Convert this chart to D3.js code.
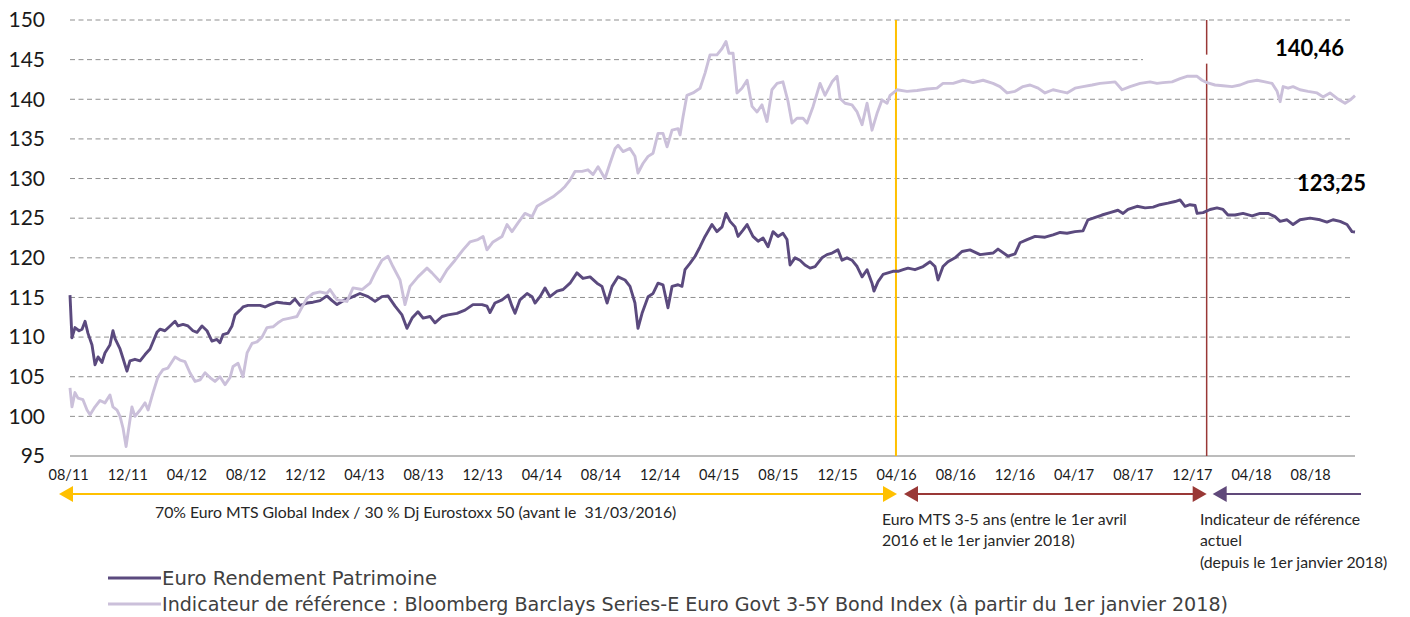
<!DOCTYPE html>
<html><head><meta charset="utf-8">
<script src="https://cdn.jsdelivr.net/npm/d3@7"></script>
<style>body{margin:0;background:#fff;} svg{display:block;} text{white-space:pre;}</style>
</head><body><svg id="c" width="1410" height="617"></svg>
<script>
// ---------------- DATA ----------------
const yTicks = [95,100,105,110,115,120,125,130,135,140,145,150];
const xTickLabels = ["08/11","12/11","04/12","08/12","12/12","04/13","08/13","12/13","04/14","08/14","12/14","04/15","08/15","12/15","04/16","08/16","12/16","04/17","08/17","12/17","04/18","08/18"];
const seriesNames = ["Euro Rendement Patrimoine","Indicateur de référence : Bloomberg Barclays Series-E Euro Govt 3-5Y Bond Index (à partir du 1er janvier 2018)"];
const lastLabels = ["123,25","140,46"];
// time in decimal years
const fundT = [2011.594,2011.605,2011.622,2011.645,2011.662,2011.679,2011.695,2011.718,2011.735,2011.752,2011.774,2011.791,2011.819,2011.836,2011.848,2011.876,2011.893,2011.915,2011.932,2011.960,2011.989,2012.017,2012.045,2012.084,2012.101,2012.129,2012.158,2012.186,2012.203,2012.231,2012.259,2012.287,2012.310,2012.338,2012.366,2012.394,2012.422,2012.439,2012.456,2012.484,2012.507,2012.524,2012.552,2012.569,2012.597,2012.625,2012.665,2012.693,2012.721,2012.761,2012.794,2012.834,2012.862,2012.890,2012.930,2012.964,2013.003,2013.042,2013.071,2013.099,2013.144,2013.189,2013.228,2013.274,2013.313,2013.352,2013.386,2013.426,2013.465,2013.493,2013.522,2013.555,2013.584,2013.623,2013.651,2013.691,2013.724,2013.775,2013.820,2013.865,2013.916,2013.944,2013.961,2013.989,2014.029,2014.063,2014.085,2014.102,2014.130,2014.170,2014.198,2014.215,2014.243,2014.271,2014.299,2014.339,2014.373,2014.412,2014.451,2014.485,2014.525,2014.564,2014.592,2014.621,2014.649,2014.683,2014.722,2014.750,2014.778,2014.795,2014.818,2014.852,2014.880,2014.908,2014.936,2014.964,2014.987,2015.021,2015.043,2015.060,2015.088,2015.117,2015.145,2015.173,2015.212,2015.240,2015.269,2015.291,2015.314,2015.342,2015.359,2015.387,2015.410,2015.443,2015.472,2015.500,2015.528,2015.556,2015.584,2015.612,2015.635,2015.652,2015.680,2015.708,2015.736,2015.765,2015.793,2015.832,2015.860,2015.889,2015.922,2015.945,2015.973,2016.001,2016.030,2016.058,2016.086,2016.114,2016.125,2016.148,2016.176,2016.204,2016.232,2016.261,2016.289,2016.317,2016.356,2016.402,2016.441,2016.469,2016.486,2016.514,2016.542,2016.582,2016.621,2016.666,2016.723,2016.796,2016.824,2016.881,2016.920,2016.948,2016.988,2017.033,2017.089,2017.134,2017.174,2017.213,2017.258,2017.303,2017.331,2017.360,2017.410,2017.455,2017.500,2017.529,2017.557,2017.608,2017.653,2017.698,2017.737,2017.782,2017.822,2017.850,2017.878,2017.906,2017.935,2017.946,2017.980,2018.019,2018.058,2018.092,2018.120,2018.160,2018.205,2018.256,2018.301,2018.346,2018.385,2018.414,2018.453,2018.487,2018.526,2018.583,2018.639,2018.678,2018.712,2018.752,2018.791,2018.819,2018.836];
const fundV = [115.3,109.9,111.2,110.8,111.0,112.0,110.5,109.0,106.5,107.5,106.8,108.0,109.0,110.8,109.8,108.5,107.3,105.7,107.0,107.2,107.0,107.8,108.5,110.6,111.0,110.8,111.4,112.0,111.4,111.6,111.4,110.8,110.6,111.4,110.8,109.5,109.7,109.3,110.3,110.5,111.4,112.8,113.4,113.8,114.0,114.0,114.0,113.8,114.1,114.4,114.3,114.2,114.8,114.0,114.3,114.4,114.6,115.2,114.6,114.1,114.7,115.1,115.5,115.1,114.5,115.1,115.2,113.9,112.8,111.1,112.4,113.2,112.4,112.6,111.8,112.6,112.8,113.0,113.4,114.1,114.1,113.9,113.1,114.3,114.7,115.3,113.9,113.0,114.7,115.5,115.1,114.3,115.1,116.2,115.1,115.8,116.0,116.8,118.1,117.4,117.6,116.8,116.4,114.3,116.4,117.6,117.2,116.4,114.3,111.1,113.0,115.1,115.5,116.8,116.6,113.7,116.4,116.6,116.4,118.5,119.3,120.2,121.4,122.7,124.2,123.3,123.9,125.6,124.6,123.9,122.7,123.5,124.2,122.7,122.1,122.5,121.4,123.3,122.7,123.1,122.3,119.1,120.0,119.7,119.1,118.7,118.9,120.0,120.4,120.6,121.0,119.7,120.0,119.7,118.9,117.6,118.5,116.8,115.8,117.0,117.9,118.1,118.3,118.3,118.5,118.7,118.5,118.9,119.5,118.9,117.2,118.9,119.5,120.0,120.8,121.0,120.4,120.6,121.1,120.2,120.5,121.9,122.3,122.7,122.6,122.9,123.2,123.1,123.3,123.4,124.8,125.0,125.4,125.7,126.0,125.6,126.1,126.5,126.3,126.4,126.7,126.9,127.1,127.3,126.5,126.7,126.6,125.6,125.7,126.1,126.3,126.1,125.4,125.4,125.6,125.3,125.6,125.6,125.2,124.6,124.8,124.2,124.8,125.0,124.8,124.5,124.8,124.6,124.2,123.3,123.25];
const benchT = [2011.594,2011.605,2011.622,2011.639,2011.667,2011.690,2011.707,2011.735,2011.763,2011.791,2011.819,2011.836,2011.859,2011.876,2011.893,2011.910,2011.921,2011.943,2011.960,2011.989,2012.017,2012.034,2012.062,2012.090,2012.118,2012.146,2012.186,2012.214,2012.242,2012.270,2012.299,2012.327,2012.355,2012.383,2012.411,2012.439,2012.468,2012.496,2012.513,2012.541,2012.569,2012.592,2012.620,2012.648,2012.676,2012.704,2012.738,2012.766,2012.794,2012.834,2012.873,2012.902,2012.930,2012.964,2013.003,2013.042,2013.059,2013.099,2013.155,2013.189,2013.240,2013.285,2013.313,2013.352,2013.386,2013.414,2013.454,2013.482,2013.510,2013.555,2013.606,2013.634,2013.679,2013.719,2013.764,2013.809,2013.848,2013.893,2013.922,2013.944,2013.978,2014.029,2014.057,2014.085,2014.119,2014.158,2014.198,2014.226,2014.271,2014.316,2014.356,2014.384,2014.412,2014.440,2014.480,2014.513,2014.542,2014.570,2014.609,2014.637,2014.666,2014.683,2014.711,2014.750,2014.778,2014.795,2014.823,2014.852,2014.880,2014.908,2014.936,2014.959,2014.987,2015.021,2015.032,2015.049,2015.071,2015.105,2015.145,2015.173,2015.201,2015.240,2015.269,2015.291,2015.308,2015.331,2015.353,2015.381,2015.410,2015.438,2015.466,2015.494,2015.522,2015.550,2015.579,2015.612,2015.641,2015.663,2015.691,2015.725,2015.748,2015.782,2015.821,2015.849,2015.889,2015.917,2015.934,2015.962,2016.001,2016.030,2016.058,2016.086,2016.114,2016.142,2016.170,2016.199,2016.216,2016.255,2016.311,2016.368,2016.424,2016.480,2016.514,2016.571,2016.627,2016.683,2016.740,2016.796,2016.835,2016.875,2016.920,2016.965,2017.005,2017.050,2017.089,2017.134,2017.174,2017.213,2017.258,2017.303,2017.354,2017.399,2017.444,2017.484,2017.523,2017.568,2017.625,2017.681,2017.720,2017.754,2017.805,2017.850,2017.889,2017.946,2017.974,2018.002,2018.047,2018.092,2018.143,2018.188,2018.233,2018.284,2018.329,2018.369,2018.397,2018.414,2018.431,2018.459,2018.487,2018.526,2018.571,2018.622,2018.656,2018.695,2018.735,2018.780,2018.808,2018.836];
const benchV = [103.6,101.2,103.0,102.3,102.1,100.8,100.2,101.2,102.0,101.7,102.7,101.2,100.8,100.0,98.5,96.2,97.9,101.2,100.0,100.8,101.7,100.8,103.0,105.0,105.9,106.1,107.5,107.1,106.9,105.5,104.4,104.6,105.5,104.9,104.4,105.0,104.0,104.9,106.3,106.7,105.0,108.0,109.2,109.4,110.0,111.2,111.3,111.8,112.2,112.4,112.6,113.8,114.9,115.5,115.7,115.5,116.0,114.7,114.5,116.2,116.0,116.8,118.1,119.7,120.2,118.9,117.2,114.1,116.4,117.6,118.7,118.1,117.0,118.5,119.7,121.0,122.0,122.3,122.7,121.0,122.0,122.7,124.2,123.3,124.4,125.6,125.2,126.5,127.1,127.7,128.4,129.0,129.8,130.9,130.9,131.1,130.5,131.5,130.0,131.9,133.8,134.2,133.4,133.8,132.8,130.7,131.9,132.8,133.2,135.7,135.7,134.0,136.1,136.3,135.5,137.8,140.5,140.8,141.4,143.3,145.6,145.6,146.4,147.3,145.8,145.8,140.8,141.4,142.4,139.1,138.4,139.3,137.2,141.2,142.0,142.2,139.7,137.0,137.6,137.6,137.0,139.1,142.0,140.5,142.2,142.9,140.1,139.5,139.3,138.4,136.8,139.5,136.1,138.2,139.9,139.5,140.5,141.2,141.0,141.1,141.3,141.4,142.0,142.0,142.4,142.1,142.4,142.0,141.6,140.8,141.0,141.6,141.8,141.4,140.8,141.2,141.0,140.8,141.4,141.6,141.8,142.0,142.1,142.2,141.2,141.6,142.0,142.2,142.0,142.1,142.2,142.6,142.9,142.9,142.4,142.1,141.8,141.7,141.6,141.8,142.2,142.4,142.2,142.0,141.0,139.7,141.6,141.4,141.6,141.2,141.0,140.8,140.3,140.8,140.1,139.5,139.9,140.46];
// benchmark change dates (decimal years): 31/03/2016 and 01/01/2018
const periodBreaks = [2016.249, 2018.0];
const periodTexts = [
  ["70% Euro MTS Global Index / 30 % Dj Eurostoxx 50 (avant le  31/03/2016)"],
  ["Euro MTS 3-5 ans (entre le 1er avril","2016 et le 1er janvier 2018)"],
  ["Indicateur de référence","actuel","(depuis le 1er janvier 2018)"]
];

// ---------------- CHART ----------------
const C_FUND = "#5b4a7e", C_BENCH = "#cbc0da", C_YEL = "#ffc000", C_RED = "#993836", C_PUR = "#60497a";
const svg = d3.select("#c");
const x = d3.scaleLinear().domain([d3.min(fundT), d3.max(fundT)]).range([70, 1355]);
const y = d3.scaleLinear().domain([95, 150]).range([456, 20]);

// gridlines
svg.append("g").selectAll("line").data(yTicks.filter(v => v > 95)).join("line")
  .attr("x1", 70).attr("x2", 1352).attr("y1", d => y(d)).attr("y2", d => y(d))
  .attr("stroke", "#8f8f8f").attr("stroke-width", 1).attr("stroke-dasharray", "5,3.5");

// y labels
const ya = svg.append("g").attr("transform", "translate(45,0)")
  .call(d3.axisLeft(y).tickValues(yTicks).tickSize(0).tickPadding(0));
ya.select(".domain").remove();
ya.selectAll("text").attr("font-family", "Lato, 'Open Sans', sans-serif").attr("font-size", 21).attr("fill", "#1a1a1a");

// x labels
const tickPos = xTickLabels.map(s => { const [m, yy] = s.split("/").map(Number); return 2000 + yy + (m - 1) / 12; });
const xa = svg.append("g").attr("transform", "translate(0,456)")
  .call(d3.axisBottom(x).tickValues(tickPos).tickFormat((d, i) => xTickLabels[i]).tickSize(0).tickPadding(14));
xa.select(".domain").remove();
xa.selectAll("text").attr("font-family", "Lato, 'Open Sans', sans-serif").attr("font-size", 14.5).attr("fill", "#1a1a1a");

// baseline
svg.append("line").attr("x1", 70).attr("x2", 1355).attr("y1", y(95)).attr("y2", y(95))
  .attr("stroke", "#a6a6a6").attr("stroke-width", 1.5);

// vertical break lines
svg.append("line").attr("x1", x(periodBreaks[0])).attr("x2", x(periodBreaks[0])).attr("y1", y(150)).attr("y2", y(95))
  .attr("stroke", C_YEL).attr("stroke-width", 2);
svg.append("line").attr("x1", x(periodBreaks[1])).attr("x2", x(periodBreaks[1])).attr("y1", y(150)).attr("y2", y(95))
  .attr("stroke", C_RED).attr("stroke-width", 1.5);

// white label boxes
svg.append("rect").attr("x", 1143).attr("y", y(145) - 5).attr("width", 212).attr("height", 9).attr("fill", "#fff");
svg.append("rect").attr("x", 1275).attr("y", y(125) - 4).attr("width", 90).attr("height", 8).attr("fill", "#fff");

// series lines
const line = d3.line().x(d => x(d[0])).y(d => y(d[1]));
const fundData = fundT.map((t, i) => [t, fundV[i]]).filter(d => d[1] !== undefined);
const benchData = benchT.map((t, i) => [t, benchV[i]]).filter(d => d[1] !== undefined);
svg.append("path").datum(fundData).attr("d", line).attr("fill", "none")
  .attr("stroke", C_FUND).attr("stroke-width", 2.9).attr("stroke-linejoin", "round");
svg.append("path").datum(benchData).attr("d", line).attr("fill", "none")
  .attr("stroke", C_BENCH).attr("stroke-width", 2.9).attr("stroke-linejoin", "round");

// last value labels
svg.append("text").attr("x", 1275).attr("y", 48).attr("dy", "0.35em").text(lastLabels[1])
  .attr("font-family", "Lato, sans-serif").attr("font-weight", "bold").attr("font-size", 22).attr("fill", "#000");
svg.append("text").attr("x", 1297).attr("y", 183).attr("dy", "0.35em").text(lastLabels[0])
  .attr("font-family", "Lato, sans-serif").attr("font-weight", "bold").attr("font-size", 22).attr("fill", "#000");

// period arrows
const ay = 494;
function arrow(x1, x2, color, headL, headR) {
  const g = svg.append("g");
  g.append("line").attr("x1", headL ? x1 + 10 : x1).attr("x2", headR ? x2 - 10 : x2).attr("y1", ay).attr("y2", ay)
    .attr("stroke", color).attr("stroke-width", 2);
  if (headL) g.append("path").attr("d", `M${x1},${ay} L${x1 + 14},${ay - 8} L${x1 + 14},${ay + 8} Z`).attr("fill", color);
  if (headR) g.append("path").attr("d", `M${x2},${ay} L${x2 - 14},${ay - 8} L${x2 - 14},${ay + 8} Z`).attr("fill", color);
}
arrow(x.range()[0] - 11, x(periodBreaks[0]) + 1, C_YEL, true, true);
arrow(x(periodBreaks[0]) + 8, x(periodBreaks[1]), C_RED, true, true);
arrow(x(periodBreaks[1]) + 6, x.range()[1] + 6, C_PUR, true, false);

// period texts
const annFont = "Lato, 'Open Sans', sans-serif";
const annPos = [[155, 512], [882, 519], [1200, 519]];
periodTexts.forEach((lines, k) => {
  lines.forEach((s, j) => {
    svg.append("text").attr("x", annPos[k][0]).attr("y", annPos[k][1] + j * 21.5).attr("dy", "0.35em")
      .text(s).attr("font-family", annFont).attr("font-size", 15.8).attr("fill", "#262626");
  });
});

// legend
const legY = [578, 604], legCol = [C_FUND, C_BENCH], legLen = [275, 1066];
seriesNames.forEach((n, i) => {
  svg.append("line").attr("x1", 108).attr("x2", 161).attr("y1", legY[i]).attr("y2", legY[i])
    .attr("stroke", legCol[i]).attr("stroke-width", 3);
  svg.append("text").attr("x", 162).attr("y", legY[i]).attr("dy", "0.36em").text(n)
    .attr("font-family", "'DejaVu Sans', sans-serif").attr("font-size", 19).attr("fill", "#404040")
    .attr("textLength", legLen[i]).attr("lengthAdjust", "spacingAndGlyphs");
});
</script>
</body></html>
